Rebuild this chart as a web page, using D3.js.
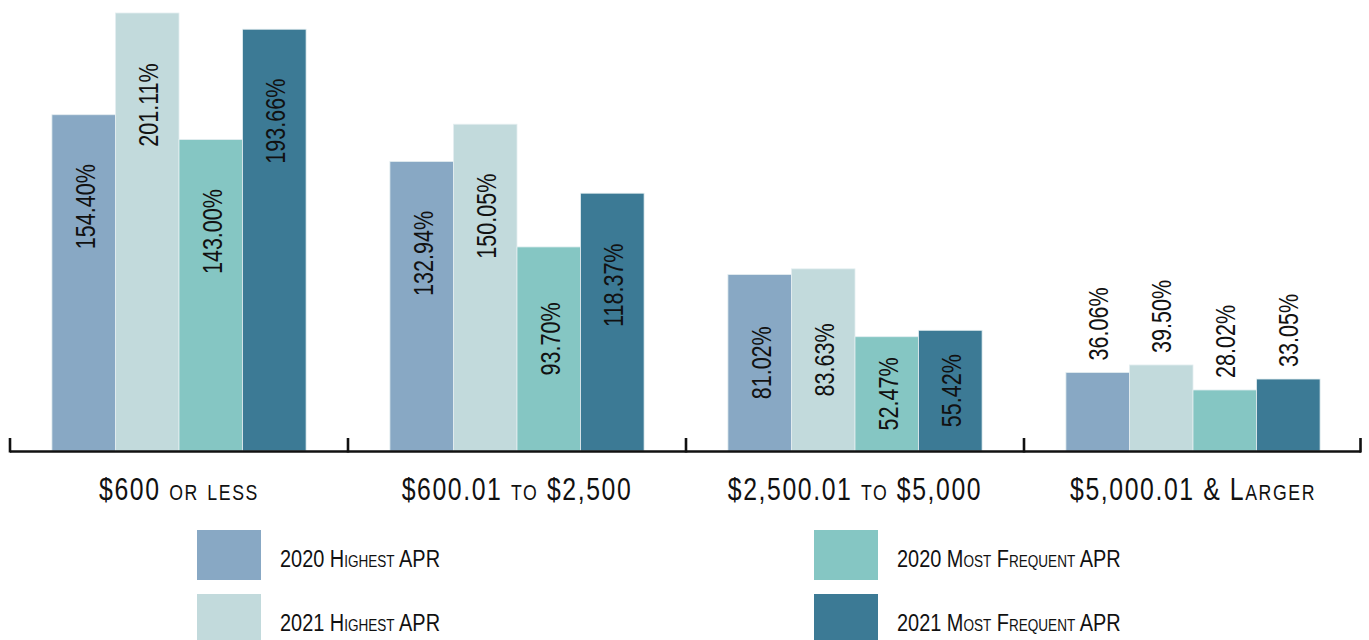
<!DOCTYPE html>
<html><head><meta charset="utf-8">
<script src="https://cdn.jsdelivr.net/npm/d3@7"></script>
<style>
html,body{margin:0;padding:0;background:#fff;}
svg{display:block;}
text{font-family:"Liberation Sans",Arial,sans-serif;fill:#111;}
</style></head>
<body>
<svg id="chart" width="1369" height="640"></svg>
<script>
const categories = ["$600 or less", "$600.01 to $2,500", "$2,500.01 to $5,000", "$5,000.01 & Larger"];
const seriesNames = ["2020 Highest APR", "2021 Highest APR", "2020 Most Frequent APR", "2021 Most Frequent APR"];
const highest2020 = [154.40, 132.94, 81.02, 36.06];
const highest2021 = [201.11, 150.05, 83.63, 39.50];
const frequent2020 = [143.00, 93.70, 52.47, 28.02];
const frequent2021 = [193.66, 118.37, 55.42, 33.05];
const colors = ["#88a8c4", "#c2dadc", "#85c6c3", "#3c7a95"];

const seriesValues = [highest2020, highest2021, frequent2020, frequent2021];
const data = categories.map((c, i) => ({
  cat: c,
  vals: seriesNames.map((s, j) => ({ s, j, v: seriesValues[j][i] }))
}));

const svg = d3.select("#chart");
const baseY = 451;
const x0 = d3.scaleBand().domain(categories).range([10, 1362]);
const bw = x0.bandwidth();
const pad = bw * 0.124;
const x1 = d3.scaleBand().domain(seriesNames).range([pad, bw - pad]);
const y = d3.scaleLinear().domain([0, 201.11]).range([baseY, 13]);
const color = d3.scaleOrdinal().domain(seriesNames).range(colors);

const g = svg.append("g");
const groups = g.selectAll("g.grp").data(data).join("g")
  .attr("class", "grp")
  .attr("transform", d => `translate(${x0(d.cat)},0)`);

groups.selectAll("rect").data(d => d.vals).join("rect")
  .attr("x", d => x1(d.s))
  .attr("width", x1.bandwidth())
  .attr("y", d => y(d.v))
  .attr("height", d => baseY - y(d.v))
  .attr("fill", d => color(d.s))
  .attr("stroke", "#e4eef0")
  .attr("stroke-width", 0.8);

// value labels (condensed by horizontal scaling)
const cond = 0.77;
groups.selectAll("text.val").data(d => d.vals).join("text")
  .attr("class", "val")
  .attr("font-size", 28)
  .attr("transform", d => {
    const cx = x1(d.s) + x1.bandwidth() / 2;
    const top = y(d.v);
    const h = baseY - top;
    if (d.v < 45) {
      return `translate(${cx + 10},${top - 12}) rotate(-90) scale(${cond},1)`;
    }
    const cy = top + Math.min(92, h / 2);
    return `translate(${cx + 11},${cy}) rotate(-90) scale(${cond},1)`;
  })
  .attr("text-anchor", d => d.v < 45 ? "start" : "middle")
  .text(d => d.v.toFixed(2) + "%");

// axis line and boundary ticks
const axisG = svg.append("g");
axisG.append("line")
  .attr("x1", x0.range()[0]).attr("x2", x0.range()[1] - 1)
  .attr("y1", baseY + 0.5).attr("y2", baseY + 0.5)
  .attr("stroke", "#111").attr("stroke-width", 2.6);
const bounds = categories.map(c => x0(c)).concat([x0.range()[1] - 1.5]);
axisG.selectAll("line.tk").data(bounds).join("line")
  .attr("class", "tk")
  .attr("x1", d => d).attr("x2", d => d)
  .attr("y1", baseY - 13).attr("y2", baseY + 1.5)
  .attr("stroke", "#111").attr("stroke-width", 2.6);

// category labels
const xAxis = d3.axisBottom(x0).tickSize(0).tickPadding(0);
const xg = svg.append("g").attr("transform", `translate(0,${baseY})`).call(xAxis);
xg.select(".domain").remove();
xg.selectAll("text")
  .attr("y", 0)
  .attr("dy", 0)
  .attr("transform", "translate(0,49) scale(0.8,1)")
  .attr("fill", "#111")
  .style("font-family", "'Liberation Sans',Arial,sans-serif")
  .style("font-size", "31px")
  .style("letter-spacing", "2px")
  .style("font-variant", "small-caps");

// legend
const legendPos = [
  { x: 197, y: 530 }, { x: 197, y: 594 },
  { x: 814, y: 530 }, { x: 814, y: 594 }
];
const lg = svg.append("g").selectAll("g").data(seriesNames).join("g")
  .attr("transform", (d, i) => `translate(${legendPos[i].x},${legendPos[i].y})`);
lg.append("rect").attr("width", 64).attr("height", 50).attr("fill", d => color(d));
lg.append("text")
  .attr("transform", "translate(83,37) scale(0.83,1)")
  .attr("font-size", 24)
  .style("font-variant", "small-caps")
  .text(d => d);
</script>
</body></html>
